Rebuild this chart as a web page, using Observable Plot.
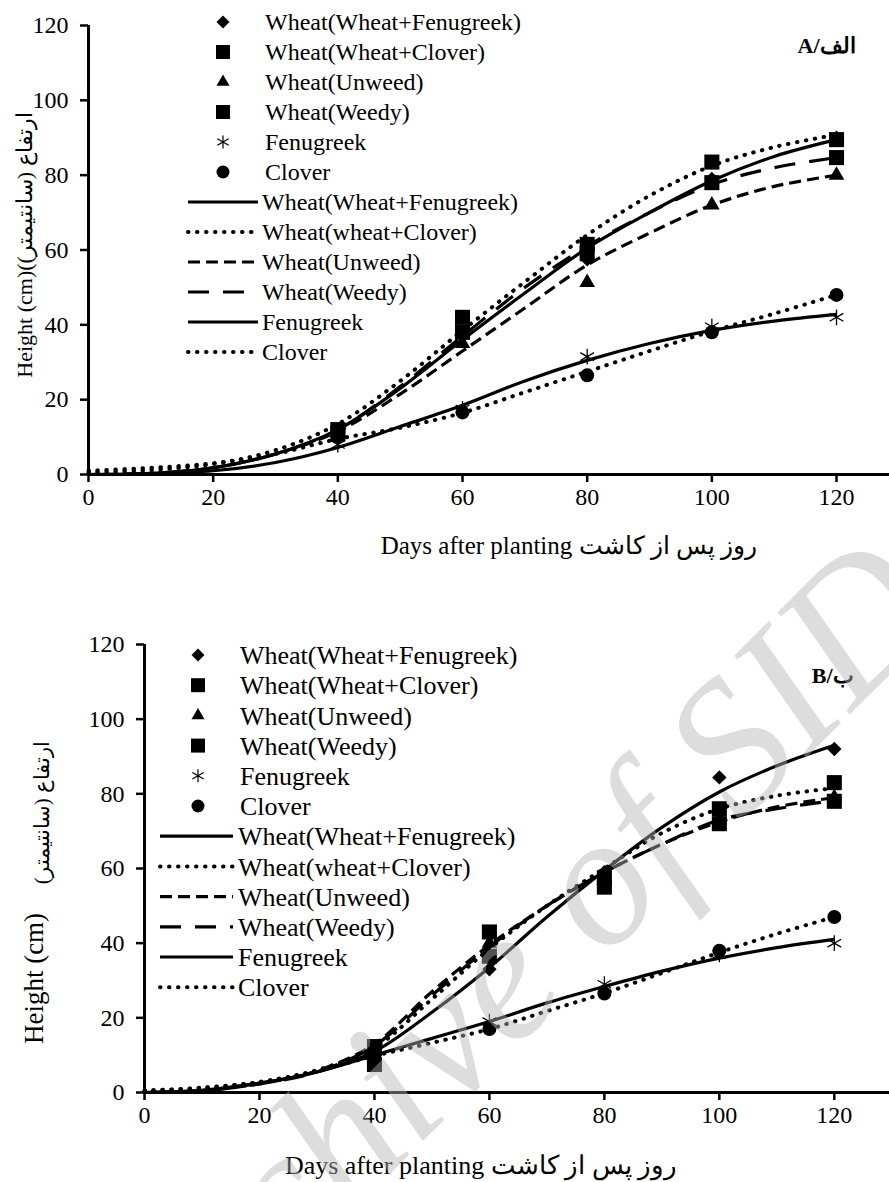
<!DOCTYPE html>
<html>
<head>
<meta charset="utf-8">
<script src="https://cdn.jsdelivr.net/npm/d3@7"></script>
<script src="https://cdn.jsdelivr.net/npm/@observablehq/plot@0.6"></script>
<style>
  html, body { margin: 0; padding: 0; background: #fff; }
  body { width: 889px; height: 1182px; position: relative; overflow: hidden;
         font-family: "Liberation Serif", "Times New Roman", serif; color: #000; }
  #panelA { position: absolute; left: 0; top: 0; }
  #panelB { position: absolute; left: 0; top: 620px; }
  #wm { position: absolute; left: 510px; top: 965px; transform: translate(-50%, -50%) rotate(-45deg);
        font-family: "Liberation Serif", serif; font-style: italic; font-size: 188px;
        color: rgba(180,180,180,0.45); white-space: nowrap; pointer-events: none; line-height: 1; }
</style>
</head>
<body>
<div id="panelA"></div>
<div id="panelB"></div>
<div id="wm">Archive of SID</div>
<script>
// ---------------- data ----------------
const days = [0, 10, 20, 30, 40, 50, 60, 70, 80, 90, 100, 110, 120];
const obsDays = [40, 60, 80, 100, 120];
const xTicks = [0, 20, 40, 60, 80, 100, 120];
const yTicks = [0, 20, 40, 60, 80, 100, 120];
const markerLabels = ["Wheat(Wheat+Fenugreek)", "Wheat(Wheat+Clover)", "Wheat(Unweed)", "Wheat(Weedy)", "Fenugreek", "Clover"];
const lineLabels = ["Wheat(Wheat+Fenugreek)", "Wheat(wheat+Clover)", "Wheat(Unweed)", "Wheat(Weedy)", "Fenugreek", "Clover"];

// Panel A (الف) observed heights (cm) at obsDays
const obsA_WheatFenugreek = [11, 37, 57.5, 79, 90];
const obsA_WheatClover    = [12, 42, 61.5, 83.5, 89.5];
const obsA_Unweed         = [10, 35, 51.3, 72, 80];
const obsA_Weedy          = [11, 38, 59, 78, 84.7];
const obsA_Fenugreek      = [8, 17.5, 31.5, 39.5, 42];
const obsA_Clover         = [10, 16.6, 26.5, 38, 48];
// Panel A fitted curves read at days
const fitA_WheatFenugreek = [0, 0.3, 1.8, 5.5, 12, 23, 36, 48.5, 60.5, 70, 78.5, 85, 89.5];
const fitA_WheatClover    = [0.5, 1.2, 2.8, 6.5, 13.5, 25, 38.5, 51.5, 64, 74.5, 82.5, 87.5, 90.8];
const fitA_Unweed         = [0, 0.3, 1.8, 5.5, 11.5, 21.5, 33, 44.5, 56, 64.5, 72, 77, 80];
const fitA_Weedy          = [0, 0.3, 1.8, 5.5, 12, 23.5, 37, 50, 61, 70, 77.5, 82, 84.7];
const fitA_Fenugreek      = [0, 0.2, 1, 3.2, 7.2, 12.8, 18.5, 25, 30.5, 35, 38.5, 41, 42.8];
const fitA_Clover         = [1, 1.8, 3, 5.5, 9.5, 12.5, 16.5, 22, 27.5, 33, 38.3, 43, 48];

// Panel B (ب) observed heights (cm)
const obsB_WheatFenugreek = [12, 33, 59, 84.4, 92];
const obsB_WheatClover    = [12.3, 43, 57.5, 76, 83];
const obsB_Unweed         = [11, 40, 57, 73, 79];
const obsB_Weedy          = [7.5, 36.5, 55, 72, 78];
const obsB_Fenugreek      = [11, 19, 29, 37, 40];
const obsB_Clover         = [10, 17, 26.5, 38, 47];
// Panel B fitted curves
const fitB_WheatFenugreek = [0, 0.5, 2.5, 5.5, 11, 21.5, 33.5, 47, 59.5, 71, 80.5, 87.5, 93];
const fitB_WheatClover    = [0.5, 1.2, 2.8, 6, 12, 25, 38.5, 50, 60, 69.5, 76, 79.5, 81.5];
const fitB_Unweed         = [0, 0.5, 2.3, 5.8, 13, 27, 39.5, 50, 59, 66.5, 72.5, 76.5, 79];
const fitB_Weedy          = [0, 0.5, 2.3, 5.5, 12.5, 26, 39, 50, 59, 66.5, 73, 76, 78.2];
const fitB_Fenugreek      = [0, 0.6, 2.5, 5.5, 10, 14.5, 19, 24, 28.4, 32.5, 36, 38.8, 41];
const fitB_Clover         = [0.5, 1.3, 2.8, 5.8, 9.8, 13.3, 17, 21.8, 26.6, 32, 37.5, 42.5, 47];

// ---------------- styles ----------------
const symbols = ["diamond2", "square", "triangle", "square", "asterisk", "circle"];
const dotR = [6.5, 8.5, 5.8, 8.5, 7.5, 7];
const DOT = "0.5 8.5", SHORT = "12 6", LONG = "21 14";
const dashes = [null, DOT, SHORT, LONG, null, DOT];
const FONT = "'Liberation Serif', 'Times New Roman', serif";

function makePanel(cfg) {
  const marks = [];
  cfg.fit.forEach((arr, i) => {
    const data = days.map((d, j) => ({day: d, h: arr[j]}));
    const dash = dashes[i];
    marks.push(Plot.line(data, {
      x: "day", y: "h", stroke: "black", strokeWidth: dash === DOT ? 4 : 3.2,
      curve: "catmull-rom",
      strokeDasharray: dash || undefined,
      strokeLinecap: dash === DOT ? "round" : "butt"
    }));
  });
  cfg.obs.forEach((arr, i) => {
    const data = obsDays.map((d, j) => ({day: d, h: arr[j]}));
    const isStroke = symbols[i] === "asterisk";
    marks.push(Plot.dot(data, {
      x: "day", y: "h", symbol: symbols[i], r: dotR[i],
      fill: isStroke ? "none" : "black",
      stroke: isStroke ? "black" : "none",
      strokeWidth: isStroke ? 1.3 : 0
    }));
  });
  marks.push(Plot.ruleY([0], {stroke: "black", strokeWidth: 3}));
  marks.push(Plot.ruleX([0], {stroke: "black", strokeWidth: 3}));
  marks.push(Plot.axisX({ticks: xTicks, tickSize: 8, tickPadding: 5, strokeWidth: 2.5, label: null,
                         fontSize: cfg.tickFont, tickFormat: d => String(d)}));
  marks.push(Plot.axisY({ticks: yTicks, tickSize: 8, tickPadding: 12, strokeWidth: 2.5, label: null,
                         fontSize: cfg.tickFont, tickFormat: d => String(d)}));
  marks.push(Plot.text([cfg.panelLabel], {frameAnchor: "top-right", dx: cfg.labelDx, dy: cfg.labelDy,
                         fontWeight: "bold", fontSize: 22, textAnchor: "end", lineAnchor: "middle"}));
  cfg.yTitles.forEach(t => {
    marks.push(Plot.text([t.text], {frameAnchor: "left", rotate: -90, dx: t.dx, dy: t.dy,
                           fontSize: t.font, textAnchor: "middle", lineAnchor: "middle"}));
  });
  marks.push(Plot.text([cfg.xTitle], {frameAnchor: "bottom", dx: cfg.xTitleDx, dy: cfg.xTitleDy,
                         fontSize: cfg.xTitleFont, textAnchor: "middle", lineAnchor: "middle"}));
  return Plot.plot({
    width: 889, height: cfg.height,
    marginLeft: cfg.marginLeft, marginRight: 0, marginTop: cfg.marginTop, marginBottom: cfg.marginBottom,
    x: {domain: [0, cfg.xMax], axis: null},
    y: {domain: [0, 120], axis: null},
    style: {fontFamily: FONT, color: "black", background: "transparent", overflow: "visible"},
    marks
  });
}

function makeLegend(host, cfg) {
  const svg = d3.create("svg").attr("width", 889).attr("height", cfg.height)
    .style("position", "absolute").style("left", "0px").style("top", cfg.top + "px")
    .style("overflow", "visible").style("pointer-events", "none");
  const symSize = {diamond2: 108, square: 196, triangle: 73, circle: 133, asterisk: 120};
  const d3sym = {diamond2: d3.symbolDiamond2, square: d3.symbolSquare, triangle: d3.symbolTriangle,
                 circle: d3.symbolCircle, asterisk: d3.symbolAsterisk};
  markerLabels.forEach((lab, i) => {
    const y = cfg.row0 + i * cfg.step;
    const s = symbols[i];
    svg.append("path").attr("transform", `translate(${cfg.markerX},${y})`)
      .attr("d", d3.symbol(d3sym[s], symSize[s])())
      .attr("fill", s === "asterisk" ? "none" : "black")
      .attr("stroke", s === "asterisk" ? "black" : "none").attr("stroke-width", 1.2);
    svg.append("text").attr("x", cfg.textX).attr("y", y).attr("dy", "0.35em")
      .attr("font-family", FONT).attr("font-size", cfg.font).text(lab);
  });
  lineLabels.forEach((lab, i) => {
    const y = cfg.row0 + (i + 6) * cfg.step;
    const dash = dashes[i];
    svg.append("line").attr("x1", cfg.lineX0).attr("x2", cfg.lineX1).attr("y1", y).attr("y2", y)
      .attr("stroke", "black").attr("stroke-width", dash === DOT ? 4 : 3.2)
      .attr("stroke-dasharray", dash || null)
      .attr("stroke-linecap", dash === DOT ? "round" : "butt");
    svg.append("text").attr("x", cfg.lineTextX).attr("y", y).attr("dy", "0.35em")
      .attr("font-family", FONT).attr("font-size", cfg.font).text(lab);
  });
  host.appendChild(svg.node());
}

const plotA = makePanel({
  obs: [obsA_WheatFenugreek, obsA_WheatClover, obsA_Unweed, obsA_Weedy, obsA_Fenugreek, obsA_Clover],
  fit: [fitA_WheatFenugreek, fitA_WheatClover, fitA_Unweed, fitA_Weedy, fitA_Fenugreek, fitA_Clover],
  height: 620, marginLeft: 88, marginTop: 25, marginBottom: 146, xMax: 128.5, tickFont: 24,
  panelLabel: "A/الف", labelDx: -34, labelDy: 20,
  yTitles: [{text: "Height (cm)(ارتفاع (سانتیمتر)", dx: -64, dy: -5, font: 22}],
  xTitle: "Days after planting روز پس از کاشت", xTitleDx: 80, xTitleDy: 71, xTitleFont: 25
});
document.getElementById("panelA").appendChild(plotA);

const plotB = makePanel({
  obs: [obsB_WheatFenugreek, obsB_WheatClover, obsB_Unweed, obsB_Weedy, obsB_Fenugreek, obsB_Clover],
  fit: [fitB_WheatFenugreek, fitB_WheatClover, fitB_Unweed, fitB_Weedy, fitB_Fenugreek, fitB_Clover],
  height: 562, marginLeft: 144, marginTop: 24, marginBottom: 90, xMax: 129.6, tickFont: 24,
  panelLabel: "B/ب", labelDx: -36, labelDy: 31,
  yTitles: [{text: "ارتفاع (سانتیمتر)", dx: -102, dy: -56, font: 21},
            {text: "Height (cm)", dx: -110, dy: 110, font: 27}],
  xTitle: "Days after planting روز پس از کاشت", xTitleDx: -36, xTitleDy: 73, xTitleFont: 26
});
document.getElementById("panelB").appendChild(plotB);

makeLegend(document.body, {top: 0, height: 380, row0: 22, step: 30, markerX: 223, textX: 265,
                           lineX0: 188, lineX1: 258, lineTextX: 262, font: 24});
makeLegend(document.body, {top: 620, height: 380, row0: 35, step: 30.2, markerX: 198, textX: 240,
                           lineX0: 160, lineX1: 233, lineTextX: 238, font: 26});
document.body.appendChild(document.getElementById("wm"));
</script>
</body>
</html>
